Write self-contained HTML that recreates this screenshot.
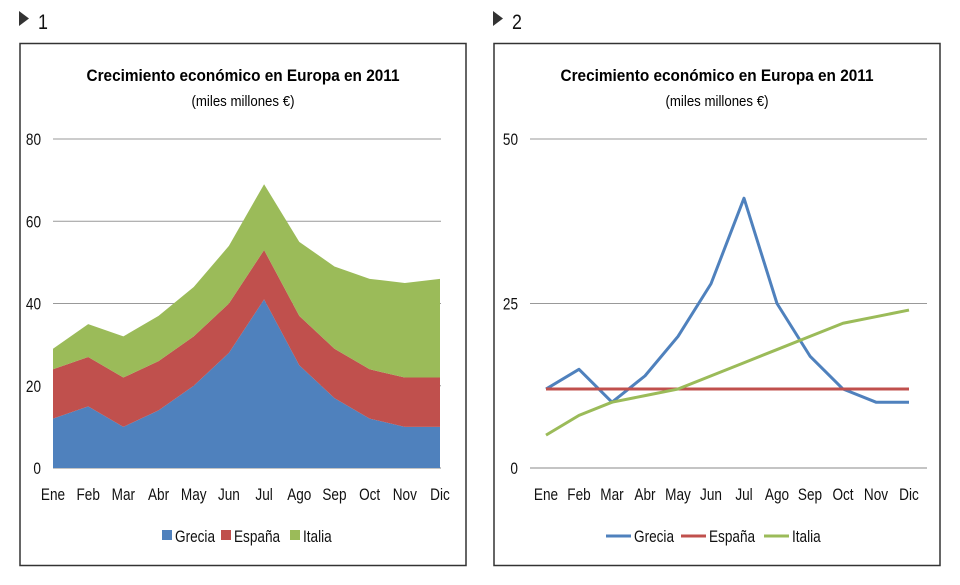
<!DOCTYPE html>
<html><head><meta charset="utf-8"><style>
body{margin:0;background:#fff;width:960px;height:580px;overflow:hidden}
svg{font-family:"Liberation Sans",sans-serif}
</style></head><body>
<svg width="960" height="580">
<g id="g1"></g>
<g id="g2"></g>
</svg>
<script>
const months=["Ene","Feb","Mar","Abr","May","Jun","Jul","Ago","Sep","Oct","Nov","Dic"];
const grecia=[12,15,10,14,20,28,41,25,17,12,10,10];
const espana=[12,12,12,12,12,12,12,12,12,12,12,12];
const italia=[5,8,10,11,12,14,16,18,20,22,23,24];
const ticks1=[0,20,40,60,80];
const ticks2=[0,25,50];
const colors=["#4f81bd","#c0504d","#9bbb59"];
const names=["Grecia","España","Italia"];
const NS="http://www.w3.org/2000/svg";
function mk(p,t,a,txt){const e=document.createElementNS(NS,t);for(const k in a)e.setAttribute(k,a[k]);if(txt!=null)e.textContent=txt;p.appendChild(e);return e;}
function ntext(p,x,y,size,anchor,txt,sx){
  return mk(p,"text",{x:0,y:0,"font-size":size,"text-anchor":anchor,transform:`translate(${x},${y}) scale(${sx||0.8},1)`,fill:"#111"},txt);
}
function frame(g,x0,label){
  const m=mk(g,"path",{d:`M${x0} 11 l10 7.5 l-10 7.5z`,fill:"#333"});
  
  
  const n=ntext(g,x0+19,29,21,"start",label,0.85);
  
  
  const b=mk(g,"rect",{x:x0+1,y:43.5,width:446,height:522,fill:"none",stroke:"#333","stroke-width":1.5});
  
  
  const cx=x0+224;
  const t=mk(g,"text",{x:cx,y:81,"font-size":17,"font-weight":"bold","text-anchor":"middle",textLength:313,lengthAdjust:"spacingAndGlyphs"},"Crecimiento económico en Europa en 2011");
  
  
  const s=mk(g,"text",{x:cx,y:106,"font-size":15,"text-anchor":"middle",textLength:103,lengthAdjust:"spacingAndGlyphs"},"(miles millones €)");
  
  
}
function axes(g,L,R,ticks,max,yf,xf){
  ticks.forEach(v=>{
    const y=yf(v);
    const l=mk(g,"line",{x1:L,x2:R,y1:y,y2:y,stroke:v===0?"#888":"#999","stroke-width":1});
    
    
    const t=ntext(g,L-12,y+6,17,"end",v);
    
    
  });
  months.forEach((m,i)=>{
    const t=ntext(g,xf(i),500,17,"middle",m);
    
    
  });
}
// chart 1 stacked area
(function(){
  const g=document.getElementById("g1");frame(g,19,"1");
  const L=53,R=441,y0=468,y1=139,max=80;
  const yf=v=>y0-(v/max)*(y0-y1), xf=i=>L+i*(R-1-L)/11;
  axes(g,L,R,ticks1,max,yf,xf);
  const series=[grecia,espana,italia];let base=months.map(()=>0);
  series.forEach((s,k)=>{
    const top=s.map((v,i)=>v+base[i]);
    let d="M"+top.map((v,i)=>xf(i)+","+yf(v)).join(" L");
    for(let i=11;i>=0;i--)d+=" L"+xf(i)+","+yf(base[i]);
    const a=mk(g,"path",{d:d+"Z",fill:colors[k]});
    
    
    base=top;
  });
  const lx=[162,221,290];
  names.forEach((n,k)=>{
    const r=mk(g,"rect",{x:lx[k],y:530,width:10,height:10,fill:colors[k]});
    
    
    const t=ntext(g,lx[k]+13,542,17,"start",n);
    
    
  });
})();
// chart 2 lines
(function(){
  const g=document.getElementById("g2");frame(g,493,"2");
  const L=530,R=927,y0=468,y1=139,max=50;
  const yf=v=>y0-(v/max)*(y0-y1), xf=i=>546+i*(909-546)/11;
  axes(g,L,R,ticks2,max,yf,xf);
  [grecia,espana,italia].forEach((s,k)=>{
    const p=mk(g,"polyline",{points:s.map((v,i)=>xf(i)+","+yf(v)).join(" "),fill:"none",stroke:colors[k],"stroke-width":3,"stroke-linejoin":"round"});
    
    
  });
  const lx=[606,681,764];
  names.forEach((n,k)=>{
    const r=mk(g,"line",{x1:lx[k],x2:lx[k]+25,y1:536,y2:536,stroke:colors[k],"stroke-width":3});
    
    
    const t=ntext(g,lx[k]+28,542,17,"start",n);
    
    
  });
})();
</script>
</body></html>
